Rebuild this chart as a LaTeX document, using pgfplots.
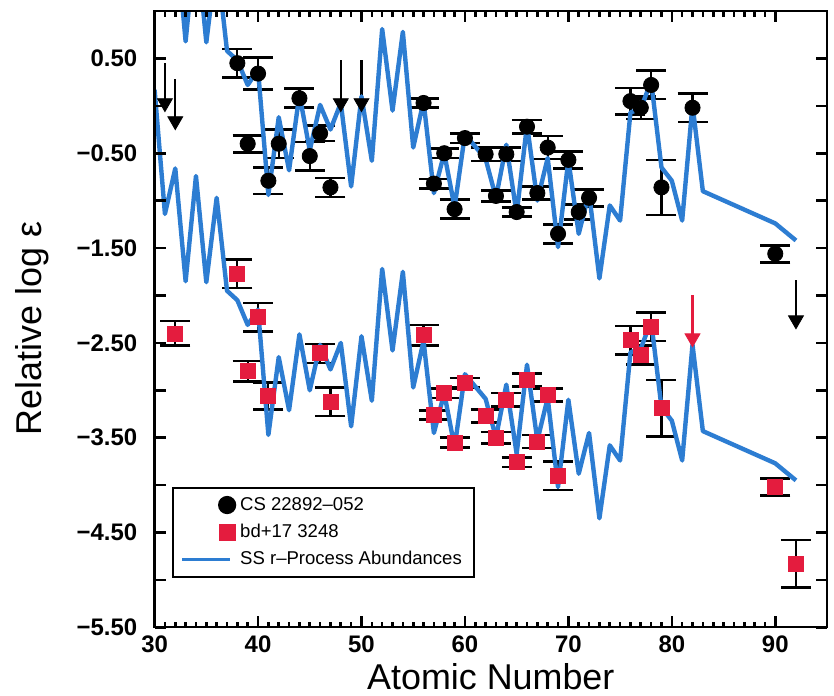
\documentclass[border=0pt]{standalone}
\usepackage{pgfplots}
\usepackage{pgfplotstable}
\pgfplotsset{compat=1.18}
\usepackage{fontspec}
\setmainfont{Liberation Sans}
\definecolor{ssblue}{RGB}{45,125,210}
\definecolor{bdred}{RGB}{228,28,62}

\pgfplotstableread{
Z up lo
30 2.70 0.17
31 1.39 -1.14
32 1.87 -0.66
33 0.68 -1.85
34 1.79 -0.74
35 0.67 -1.86
36 1.56 -0.97
37 0.58 -1.95
38 0.48 -2.05
39 0.22 -2.31
40 0.38 -2.15
41 -0.94 -3.47
42 -0.12 -2.65
43 -0.68 -3.21
44 0.12 -2.41
45 -0.47 -3.00
46 0.01 -2.52
47 -0.25 -2.78
48 0.03 -2.50
49 -0.85 -3.38
50 0.10 -2.43
51 -0.58 -3.11
52 0.81 -1.72
53 -0.05 -2.58
54 0.78 -1.75
55 -0.44 -2.97
56 0.05 -2.48
57 -0.92 -3.45
58 -0.50 -3.03
59 -1.07 -3.60
60 -0.30 -2.83
62 -0.56 -3.09
63 -0.97 -3.50
64 -0.41 -2.94
65 -1.14 -3.67
66 -0.20 -2.73
67 -1.00 -3.53
68 -0.55 -3.08
69 -1.49 -4.02
70 -0.57 -3.10
71 -1.35 -3.88
72 -0.92 -3.45
73 -1.82 -4.35
74 -1.05 -3.58
75 -1.21 -3.74
76 -0.07 -2.60
77 -0.03 -2.56
78 0.26 -2.27
79 -0.65 -3.18
80 -0.79 -3.32
81 -1.21 -3.74
82 0.01 -2.52
83 -0.90 -3.43
90 -1.24 -3.77
92 -1.42 -3.95
}\sstab

\pgfplotstableread{
Z v e
38 0.45 0.15
39 -0.40 0.09
40 0.34 0.17
41 -0.79 0.14
42 -0.40 0.15
44 0.08 0.10
45 -0.53 0.15
46 -0.29 0.08
47 -0.86 0.10
56 0.03 0.05
57 -0.82 0.05
58 -0.50 0.05
59 -1.09 0.10
60 -0.34 0.05
62 -0.51 0.07
63 -0.95 0.06
64 -0.51 0.07
65 -1.12 0.05
66 -0.22 0.07
67 -0.92 0.07
68 -0.44 0.12
69 -1.35 0.10
70 -0.57 0.09
71 -1.12 0.08
72 -0.97 0.09
76 0.05 0.14
77 -0.02 0.12
78 0.22 0.15
79 -0.86 0.29
82 -0.02 0.15
90 -1.56 0.09
}\csdata

\pgfplotstableread{
Z v e
32 -2.40 0.13
38 -1.77 0.15
39 -2.80 0.11
40 -2.23 0.15
41 -3.06 0.14
46 -2.61 0.10
47 -3.12 0.15
56 -2.42 0.11
57 -3.26 0.05
58 -3.03 0.05
59 -3.55 0.05
60 -2.92 0.05
62 -3.27 0.07
63 -3.50 0.06
64 -3.10 0.07
65 -3.76 0.05
66 -2.89 0.07
67 -3.54 0.07
68 -3.05 0.07
69 -3.90 0.15
76 -2.47 0.15
77 -2.63 0.10
78 -2.33 0.15
79 -3.19 0.30
90 -4.02 0.09
92 -4.83 0.25
}\bddata

\begin{document}
\begin{tikzpicture}
\begin{axis}[
  scale only axis, width=336bp, height=308bp,
  xmin=30, xmax=95, ymin=-5.5, ymax=1.0,
  axis on top,
  axis line style={line width=1.1bp},
  every tick/.style={black, line width=1.3bp},
  tick align=inside,
  xtick={30,40,50,60,70,80,90},
  xticklabels={30,40,50,60,70,80,90},
  minor x tick num=9,
  ytick={-5.5,-4.5,-3.5,-2.5,-1.5,-0.5,0.5},
  yticklabels={−5.50,−4.50,−3.50,−2.50,−1.50,−0.50,0.50},
  extra y ticks={-5,-4,-3,-2,-1,0},
  extra y tick labels={},
  major tick length=5.5bp, minor tick length=2.8bp,
  xticklabel style={font=\bfseries\fontsize{12}{13}\selectfont, inner sep=0pt, yshift=-4bp},
  yticklabel style={font=\bfseries\fontsize{12}{13}\selectfont, inner sep=0pt, xshift=-8.5bp},
  xlabel={Atomic Number},
  ylabel={Relative log ε},
  label style={font=\fontsize{18}{20}\selectfont},
  xlabel style={at={(axis description cs:0.5,-0.1006)}, anchor=base},
  ylabel style={at={(axis description cs:-0.1816,0.485)}, anchor=center},
  legend style={at={(axis description cs:0.0256,0.2278)}, anchor=north west,
    draw=black, line width=1.1bp, fill=white,
    font=\fontsize{9.3}{11}\selectfont,
    inner xsep=4bp, inner ysep=2.5bp, row sep=1.5bp,
    cells={anchor=west}},
]
% BD+17 3248 data
\addplot[forget plot, only marks, mark=square*, mark size=3.75bp, color=bdred,
  mark options={fill=bdred, draw=bdred},
  error bars/.cd, y dir=both, y explicit,
  error bar style={black, line width=1.1bp},
  error mark options={rotate=90, black, line width=1.3bp, mark size=7.5bp}]
  table[x=Z, y=v, y error=e] {\bddata};
% CS 22892-052 data
\addplot[forget plot, only marks, mark=*, mark size=3.8bp, color=black,
  mark options={fill=black, draw=black},
  error bars/.cd, y dir=both, y explicit,
  error bar style={black, line width=1.1bp},
  error mark options={rotate=90, black, line width=1.3bp, mark size=7.5bp}]
  table[x=Z, y=v, y error=e] {\csdata};
% upper limits
\addplot[forget plot, only marks, mark=triangle*, mark size=4.3bp, color=black,
  mark options={rotate=180, fill=black, draw=black},
  error bars/.cd, y dir=plus, y explicit, error mark=none,
  error bar style={black, line width=1.1bp}] coordinates {
  (31,0.03) +- (0,0.42)
  (32,-0.16) +- (0,0.44)
  (48,0.03) +- (0,0.45)
  (50,0.03) +- (0,0.45)
  (92,-2.26) +- (0,0.42)
};
\addplot[forget plot, only marks, mark=triangle*, mark size=4.3bp, color=bdred,
  mark options={rotate=180, fill=bdred, draw=bdred},
  error bars/.cd, y dir=plus, y explicit, error mark=none,
  error bar style={bdred, line width=1.1bp}] coordinates {
  (82,-2.45) +- (0,0.45)
};
% SS r-process curves
\addplot[forget plot, ssblue, line width=2.2bp, line join=round] table[x=Z, y=up] {\sstab};
\addplot[forget plot, ssblue, line width=2.2bp, line join=round] table[x=Z, y=lo] {\sstab};

\addlegendimage{legend image code/.code={\path[draw=none,fill=none] (0bp,0bp) -- (27bp,0bp); \fill[black] (22.5bp,0bp) circle (4bp);}}
\addlegendentry{CS 22892--052}
\addlegendimage{legend image code/.code={\path[draw=none,fill=none] (0bp,0bp) -- (27bp,0bp); \fill[bdred] (18.75bp,-3.75bp) rectangle (26.25bp,3.75bp);}}
\addlegendentry{bd+17 3248}
\addlegendimage{legend image code/.code={\path[draw=none,fill=none] (0bp,0bp) -- (27bp,0bp); \draw[ssblue, line width=1.2bp] (0bp,0bp) -- (24bp,0bp);}}
\addlegendentry{SS r--Process Abundances}
\end{axis}
\pgfresetboundingbox
\path[use as bounding box] ([xshift=-77.25bp,yshift=-34bp]current axis.south west) rectangle ([xshift=3.5bp,yshift=5.5bp]current axis.north east);
\end{tikzpicture}
\end{document}
